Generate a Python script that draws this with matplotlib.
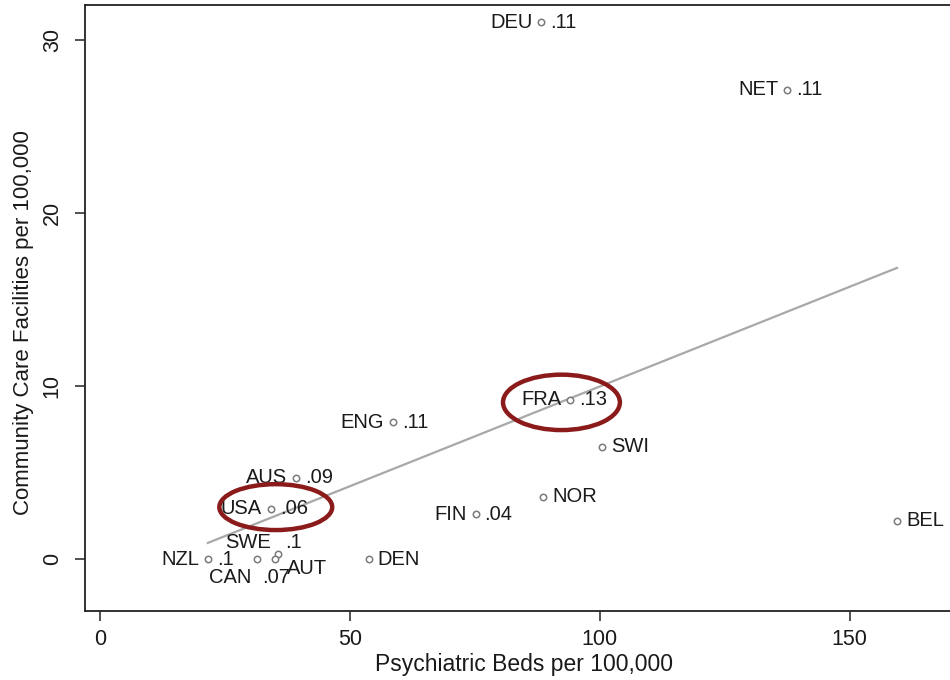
import numpy as np
import matplotlib
matplotlib.use("Agg")
from matplotlib import pyplot as plt
from matplotlib.patches import Ellipse

plt.rcParams['font.family'] = ['Liberation Sans', 'DejaVu Sans']

countries = ["DEU", "NET", "FRA", "SWI", "NOR", "FIN", "BEL", "ENG",
             "AUS", "USA", "DEN", "NZL", "CAN", "SWE", "AUT"]
beds = [88.3, 137.5, 94.1, 100.5, 88.7, 75.1, 159.5, 58.5,
        39.1, 34.1, 53.7, 21.5, 31.3, 35.5, 34.9]
facilities = [31.0, 27.1, 9.2, 6.5, 3.6, 2.6, 2.2, 7.9,
              4.7, 2.9, 0.0, 0.0, 0.0, 0.3, 0.0]
values = [".11", ".11", ".13", "", "", ".04", "", ".11",
          ".09", ".06", "", ".1", ".07", ".1", ""]

# clock positions for the labels (stata style)
name_pos = {"SWI": 3, "NOR": 3, "BEL": 3, "DEN": 3, "CAN": 7, "SWE": 11, "AUT": 4}
val_pos = {"CAN": 5, "SWE": 1}

x_ticks = [0, 50, 100, 150]
y_ticks = [0, 10, 20, 30]

def place(pos):
    d = 6.5
    if pos == 3:
        return (d, 0), "left", "center"
    if pos == 9:
        return (-d, 0), "right", "center"
    if pos == 11:
        return (-5, 8.5), "right", "center"
    if pos == 1:
        return (5, 8.5), "left", "center"
    if pos == 7:
        return (-4, -13), "right", "center"
    if pos == 5:
        return (4, -13), "left", "center"
    if pos == 4:
        return (9, -6.5), "left", "center"

fig = plt.figure(figsize=(9.5, 6.8), dpi=100)
ax = fig.add_axes([85/950, 69/680, 1 - 85/950, 606/680])

# fitted line
b, a = np.polyfit(beds, facilities, 1)
xs = np.array([min(beds), max(beds)])
ax.plot(xs, a + b*xs, color="#a8a8a8", lw=1.6, zorder=1)

ax.plot(beds, facilities, "o", ms=4.6, mfc="white", mec="#7a7a7a", mew=1.1, zorder=3)

for c, x, y, v in zip(countries, beds, facilities, values):
    off, ha, va = place(name_pos.get(c, 9))
    ax.annotate(c, (x, y), xytext=off, textcoords="offset points",
                ha=ha, va=va, fontsize=14.5, color="#1a1a1a", zorder=4)
    if v:
        off, ha, va = place(val_pos.get(c, 3))
        ax.annotate(v, (x, y), xytext=off, textcoords="offset points",
                    ha=ha, va=va, fontsize=14.5, color="#1a1a1a", zorder=4)

# red circles around FRA and USA
red = "#8b1a1a"
ax.add_patch(Ellipse((92.3, 9.05), 23.4, 3.2, fill=False, ec=red, lw=3.2, zorder=5))
ax.add_patch(Ellipse((35.1, 3.0), 22.6, 2.65, fill=False, ec=red, lw=3.2, zorder=5))

ax.set_xlim(-3.1, 170.1)
ax.set_ylim(-3.0, 32.0)
ax.set_xticks(x_ticks)
ax.set_yticks(y_ticks)
ax.tick_params(axis="both", direction="out", length=7, width=1.1, labelsize=15.5,
               color="#222222", labelcolor="#1a1a1a")
ax.tick_params(axis="x", pad=6)
ax.tick_params(axis="y", pad=9)
for lab in ax.get_yticklabels():
    lab.set_rotation(90)
    lab.set_va("center")
ax.spines["right"].set_visible(False)
for s in ["left", "bottom", "top"]:
    ax.spines[s].set_linewidth(1.3)
    ax.spines[s].set_color("#222222")

fig.text(24/950, 1 - 323/680, "Community Care Facilities per 100,000",
         rotation=90, ha="center", va="center", fontsize=16, color="#1a1a1a")
fig.text(524/950, 1 - 665/680, "Psychiatric Beds per 100,000",
         ha="center", va="center", fontsize=16.5, color="#1a1a1a")

fig.savefig("out.png", dpi=100)
